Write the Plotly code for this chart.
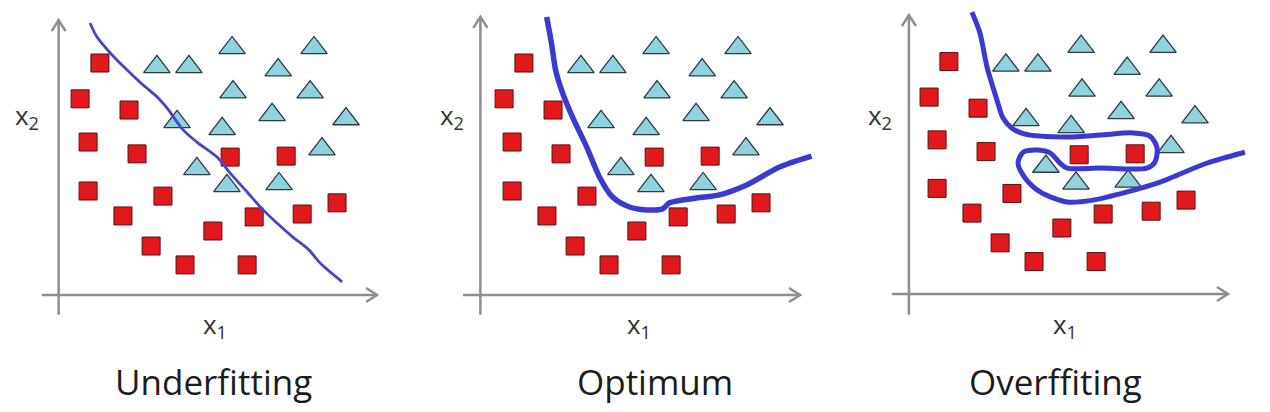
import plotly.graph_objects as go

# ---------------- data ----------------
square_x = [1.31, 0.69, 2.22, 0.94, 2.47, 5.38, 7.13, 0.94, 3.28, 2.03, 6.13, 7.63, 8.72, 4.84, 2.91, 3.97, 5.91]
square_y = [7.25, 6.13, 5.78, 4.78, 4.41, 4.31, 4.34, 3.25, 3.09, 2.47, 2.44, 2.53, 2.88, 2.00, 1.53, 0.94, 0.94]

triangle_x = [5.44, 8.00, 3.09, 4.09, 6.88, 5.47, 7.88, 3.72, 6.69, 9.00, 5.13, 8.25, 4.34, 5.28, 6.91]
triangle_y = [7.72, 7.72, 7.13, 7.13, 7.03, 6.34, 6.34, 5.41, 5.63, 5.50, 5.19, 4.56, 3.94, 3.41, 3.47]

under_x = [1.00, 1.22, 1.69, 2.16, 2.66, 3.13, 3.41, 3.91, 4.34, 4.97, 5.38, 5.91, 6.41, 6.84, 7.34, 7.84, 8.19, 8.88]
under_y = [8.50, 8.06, 7.50, 7.03, 6.56, 6.16, 5.84, 5.16, 4.78, 4.31, 3.81, 3.22, 2.66, 2.25, 1.81, 1.41, 1.00, 0.41]

opt_x = [2.02, 2.17, 2.30, 2.52, 2.83, 3.27, 3.67, 4.08, 4.61, 5.14, 5.64, 5.86, 6.70, 7.42, 8.27, 9.30, 10.30]
opt_y = [8.69, 7.88, 7.03, 6.31, 5.56, 4.63, 3.69, 3.06, 2.75, 2.66, 2.69, 2.88, 3.03, 3.13, 3.44, 4.00, 4.34]

over_x = [2.03, 2.28, 2.50, 2.81, 3.00, 3.28, 3.69, 5.00, 6.03, 7.06, 7.59, 7.81, 7.75, 7.50, 6.03, 5.00,
          4.78, 4.47, 4.06, 3.63, 3.47, 3.69, 4.16, 5.00, 5.81, 6.88, 7.91, 8.31, 9.38, 10.56]
over_y = [8.81, 8.15, 7.08, 6.04, 5.47, 5.15, 4.96, 4.87, 4.93, 5.00, 4.90, 4.55, 4.08, 3.89, 3.89, 3.89,
          4.05, 4.37, 4.46, 4.39, 4.05, 3.58, 3.14, 2.82, 2.88, 3.14, 3.45, 3.61, 4.05, 4.39]

panel_titles = ["Underfitting", "Optimum", "Overffiting"]
x_label = "x<sub>1</sub>"
y_label = "x<sub>2</sub>"

# ---------------- styles ----------------
RED = "#e2191c"
RED_EDGE = "#5a0f0f"
CYAN = "#8fd3df"
CYAN_EDGE = "#2f3b3f"
AXIS = "#8e8e8e"
FONT = "Open Sans, Lato, sans-serif"
W, H = 1270, 412

fig = go.Figure()

curves = [(under_x, under_y, "#4545c8", 2.8), (opt_x, opt_y, "#3a3ad2", 5.5), (over_x, over_y, "#3a3ad2", 5.0)]

for i in range(3):
    xa = "x" if i == 0 else f"x{i+1}"
    ya = "y" if i == 0 else f"y{i+1}"
    fig.add_trace(go.Scatter(x=square_x, y=square_y, mode="markers", xaxis=xa, yaxis=ya,
                             marker=dict(symbol="square", size=18, color=RED,
                                         line=dict(color=RED_EDGE, width=1)),
                             cliponaxis=False, hoverinfo="skip", showlegend=False))
    fig.add_trace(go.Scatter(x=triangle_x, y=triangle_y, mode="markers", xaxis=xa, yaxis=ya,
                             marker=dict(symbol="triangle-up", size=23, color=CYAN,
                                         line=dict(color=CYAN_EDGE, width=1.3)),
                             cliponaxis=False, hoverinfo="skip", showlegend=False))
    cx, cy, col, lw = curves[i]
    fig.add_trace(go.Scatter(x=cx, y=cy, mode="lines", xaxis=xa, yaxis=ya,
                             line=dict(color=col, width=lw, shape="spline", smoothing=0.8),
                             hoverinfo="skip", showlegend=False))

# pixel frames of each panel: (left px, right px, px of x=0, x scale, py of y=0, y scale)
frames = [
    (0, 400, 58, 32.0, 295.0, 32.0),
    (424, 830, 482, 32.0, 295.0, 32.0),
    (850, 1270, 907, 32.0, 291.4, 31.7),
]
top_px, bot_px = 0, 340
layout = {}
for i, (l, r, x0, sx, y0, sy) in enumerate(frames):
    xk = "xaxis" if i == 0 else f"xaxis{i+1}"
    yk = "yaxis" if i == 0 else f"yaxis{i+1}"
    layout[xk] = dict(domain=[l / W, r / W], range=[(l - x0) / sx, (r - x0) / sx],
                      visible=False, fixedrange=True, anchor="y" if i == 0 else f"y{i+1}")
    layout[yk] = dict(domain=[1 - bot_px / H, 1 - top_px / H],
                      range=[(y0 - bot_px) / sy, (y0 - top_px) / sy],
                      visible=False, fixedrange=True, anchor="x" if i == 0 else f"x{i+1}")

# axis arrows: x-axis (x0, y, x1) and y-axis (x, y0, y1) in data units per panel
axis_lines = [
    ((-0.50, 0.00, 9.97), (0.02, -0.62, 8.59)),
    ((-0.59, 0.00, 9.94), (-0.05, -0.62, 8.69)),
    ((-0.47, -0.08, 10.03), (0.06, -0.74, 8.72)),
]
shapes = []
for i, (xax, yax) in enumerate(axis_lines):
    xr = "x" if i == 0 else f"x{i+1}"
    yr = "y" if i == 0 else f"y{i+1}"
    line = dict(color=AXIS, width=2.5)
    x0, yy, x1 = xax
    shapes.append(dict(type="line", xref=xr, yref=yr, x0=x0, x1=x1, y0=yy, y1=yy, line=line, layer="below"))
    shapes.append(dict(type="path", xref=xr, yref=yr, xsizemode="pixel", ysizemode="pixel",
                       xanchor=x1, yanchor=yy, path="M -11,-7 L 0,0 L -11,7", line=line, layer="below"))
    xx, y0, y1 = yax
    shapes.append(dict(type="line", xref=xr, yref=yr, x0=xx, x1=xx, y0=y0, y1=y1, line=line, layer="below"))
    shapes.append(dict(type="path", xref=xr, yref=yr, xsizemode="pixel", ysizemode="pixel",
                       xanchor=xx, yanchor=y1, path="M -7,-11 L 0,0 L 7,-11", line=line, layer="below"))

annotations = []
title_px = [213.5, 654.5, 1055.5]
xlab_px = [215, 639, 1065]
ylab_px = [27, 452, 880]
for i in range(3):
    annotations.append(dict(x=title_px[i] / W, y=1 - 381 / H, xref="paper", yref="paper",
                            text=panel_titles[i], showarrow=False, xanchor="center", yanchor="middle",
                            font=dict(family=FONT, size=35, color="#1c1c1c")))
    annotations.append(dict(x=xlab_px[i] / W, y=1 - 325 / H, xref="paper", yref="paper",
                            text=x_label, showarrow=False, xanchor="center", yanchor="middle",
                            font=dict(family=FONT, size=26, color="#333333")))
    annotations.append(dict(x=ylab_px[i] / W, y=1 - 116 / H, xref="paper", yref="paper",
                            text=y_label, showarrow=False, xanchor="center", yanchor="middle",
                            font=dict(family=FONT, size=26, color="#333333")))

fig.update_layout(width=W, height=H, margin=dict(l=0, r=0, t=0, b=0),
                  paper_bgcolor="white", plot_bgcolor="rgba(0,0,0,0)",
                  annotations=annotations, shapes=shapes, **layout)

fig.write_html("out.html", config={"displayModeBar": False})
